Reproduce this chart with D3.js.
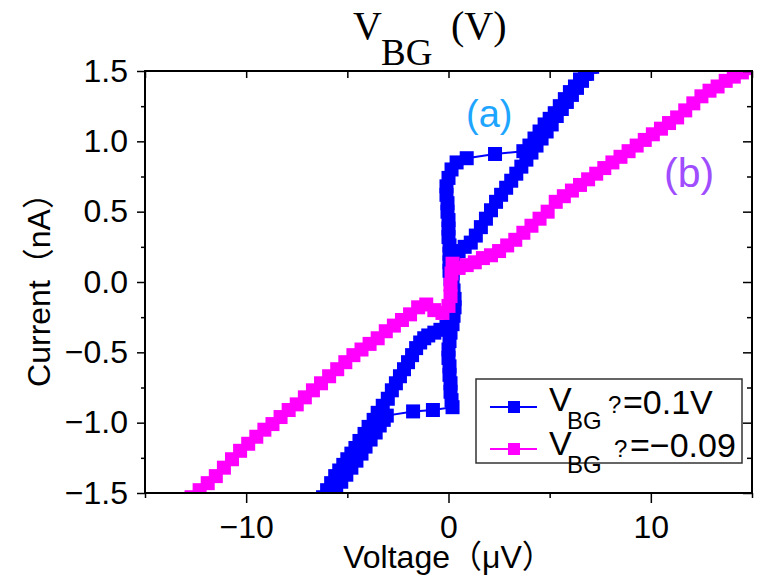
<!DOCTYPE html>
<html>
<head>
<meta charset="utf-8">
<script src="https://cdn.jsdelivr.net/npm/d3@7"></script>
<style>
body { margin: 0; background: #fff; }
text { font-family: "Liberation Sans", Arial, "Noto Sans CJK JP", sans-serif; }
</style>
</head>
<body>
<div id="chart"></div>
<script>
// (a) V_BG = 0.1 V  -- [voltage uV, current nA], forward sweep then return sweep
var curveA = [
  [-6.2,-1.53],[-6.0,-1.48],[-5.8,-1.43],[-5.6,-1.38],[-5.4,-1.34],[-5.2,-1.30],[-5.0,-1.26],[-4.8,-1.22],
  [-4.6,-1.18],[-4.4,-1.13],[-4.15,-1.08],[-3.95,-1.03],[-3.7,-0.98],[-3.5,-0.93],[-3.25,-0.88],[-3.0,-0.83],
  [-2.8,-0.77],[-2.6,-0.72],[-2.4,-0.67],[-2.2,-0.62],[-2.0,-0.57],[-1.8,-0.52],[-1.6,-0.47],[-1.4,-0.43],
  [-1.2,-0.40],[-1.0,-0.38],[-0.7,-0.36],[-0.4,-0.34],[-0.1,-0.32],[0.1,-0.28],[0.15,-0.22],[0.2,-0.16],
  [0.2,-0.10],[0.15,-0.04],[0.1,0.02],[0.05,0.08],[0.05,0.14],[0.05,0.20],[0.05,0.26],[0.0,0.32],
  [0.0,0.38],[0.0,0.44],[-0.05,0.50],[-0.05,0.56],[-0.1,0.62],[-0.1,0.68],[0.0,0.74],[0.15,0.80],
  [0.4,0.85],[0.9,0.88],[2.3,0.91],[3.7,0.93],
  [4.0,0.97],[4.25,1.02],[4.5,1.07],[4.75,1.12],[5.0,1.16],[5.25,1.20],[5.5,1.25],[5.75,1.30],
  [6.0,1.35],[6.25,1.39],[6.5,1.44],[6.75,1.48],[7.0,1.53],
  [7.1,1.53],[6.85,1.48],[6.6,1.43],[6.35,1.38],[6.1,1.33],[5.85,1.28],[5.6,1.23],[5.35,1.18],
  [5.1,1.12],[4.85,1.07],[4.6,1.02],[4.35,0.97],[4.1,0.92],[3.85,0.87],[3.6,0.82],[3.35,0.77],
  [3.1,0.72],[2.85,0.67],[2.6,0.62],[2.35,0.57],[2.1,0.51],[1.85,0.45],[1.6,0.39],[1.35,0.33],
  [1.1,0.28],[0.8,0.25],[0.5,0.22],[0.3,0.18],[0.25,0.12],[0.2,0.06],[0.2,0.0],[0.25,-0.06],
  [0.3,-0.12],[0.3,-0.18],[0.25,-0.24],[0.2,-0.30],[0.1,-0.36],[0.05,-0.42],[0.0,-0.48],[0.0,-0.54],
  [0.05,-0.60],[0.05,-0.66],[0.1,-0.72],[0.1,-0.78],[0.15,-0.84],[0.2,-0.89],
  [-0.77,-0.91],[-1.75,-0.92],[-3.05,-0.95],
  [-3.2,-0.98],[-3.4,-1.02],[-3.6,-1.07],[-3.85,-1.12],[-4.1,-1.17],[-4.3,-1.22],[-4.55,-1.27],
  [-4.8,-1.32],[-5.05,-1.37],[-5.3,-1.42],[-5.55,-1.47],[-5.8,-1.52]
];

// (b) V_BG = -0.09 V
var curveB = [
  [-12.7,-1.53],[-12.3,-1.48],[-11.9,-1.43],[-11.5,-1.38],[-11.1,-1.32],[-10.7,-1.26],[-10.3,-1.20],
  [-9.9,-1.15],[-9.5,-1.10],[-9.1,-1.05],[-8.7,-1.01],[-8.3,-0.96],[-7.9,-0.91],[-7.5,-0.87],
  [-7.1,-0.82],[-6.7,-0.77],[-6.3,-0.72],[-5.9,-0.67],[-5.5,-0.62],[-5.1,-0.57],[-4.7,-0.52],
  [-4.3,-0.48],[-3.9,-0.44],[-3.5,-0.40],[-3.1,-0.35],[-2.7,-0.31],[-2.3,-0.27],[-1.9,-0.23],
  [-1.5,-0.18],[-1.1,-0.16],[-0.7,-0.20],[-0.3,-0.22],[0.0,-0.17],[0.1,-0.10],[0.1,-0.02],
  [0.15,0.06],[0.2,0.13],[0.5,0.10],[0.9,0.12],[1.3,0.14],[1.7,0.17],[2.1,0.19],[2.5,0.22],
  [2.9,0.26],[3.3,0.30],[3.7,0.35],[4.1,0.40],[4.5,0.45],[4.9,0.50],[5.3,0.57],[5.7,0.61],
  [6.1,0.65],[6.5,0.69],[6.9,0.73],[7.3,0.77],[7.7,0.81],[8.1,0.85],[8.5,0.89],[8.9,0.93],
  [9.3,0.97],[9.7,1.01],[10.1,1.05],[10.5,1.09],[10.9,1.13],[11.3,1.17],[11.7,1.22],[12.1,1.27],
  [12.5,1.32],[12.9,1.36],[13.3,1.39],[13.7,1.43],[14.1,1.46],[14.5,1.49],[14.9,1.52]
];

var xMajor = [-10, 0, 10];
var xMinor = [-15, -5, 5, 15];
var xTop = [-15, -10, -5, 0, 5, 10, 15];
var yMajor = [-1.5, -1.0, -0.5, 0.0, 0.5, 1.0, 1.5];
var yMinor = [-1.25, -0.75, -0.25, 0.25, 0.75, 1.25];
var seriesColors = ["#0000ff", "#ff00ff"];
var legendValues = ["=0.1V", "=\u22120.09"];

var width = 757, height = 576;
// plot box (window.top is read-only, so no bare "top")
var pLeft = 145, pRight = 752, pTop = 71, pBottom = 493;

var svg = d3.select("#chart").append("svg")
    .attr("width", width)
    .attr("height", height);

var x = d3.scaleLinear().domain([-15, 15]).range([pLeft, pRight]);
var y = d3.scaleLinear().domain([-1.5, 1.5]).range([pBottom, pTop]);

svg.append("clipPath").attr("id", "plot-clip")
  .append("rect")
    .attr("x", pLeft).attr("y", pTop)
    .attr("width", pRight - pLeft).attr("height", pBottom - pTop);

// curves, blue first so magenta sits on top
var line = d3.line().x(function(d) { return x(d[0]); }).y(function(d) { return y(d[1]); });
var plot = svg.append("g").attr("clip-path", "url(#plot-clip)");
[curveA, curveB].forEach(function(data, k) {
    var g = plot.append("g");
    g.append("path")
        .datum(data)
        .attr("d", line)
        .attr("fill", "none")
        .attr("stroke", seriesColors[k])
        .attr("stroke-width", 2);
    g.selectAll("rect")
        .data(data)
        .enter().append("rect")
        .attr("x", function(d) { return x(d[0]) - 7; })
        .attr("y", function(d) { return y(d[1]) - 7; })
        .attr("width", 14)
        .attr("height", 14)
        .attr("fill", seriesColors[k]);
});

// axes
function styleAxis(g) {
    g.select(".domain").remove();
    g.selectAll("line").attr("stroke", "#000").attr("stroke-width", 1.5);
    g.selectAll("text").attr("fill", "#000").style("font-size", "32px");
}

svg.append("g")
    .attr("transform", "translate(0," + pBottom + ")")
    .call(d3.axisBottom(x).tickValues(xMajor).tickSize(10).tickFormat(d3.format("d")))
    .call(styleAxis)
    .selectAll("text").attr("y", 45).attr("dy", null);
svg.append("g")
    .attr("transform", "translate(0," + pBottom + ")")
    .call(d3.axisBottom(x).tickValues(xMinor).tickSize(5).tickFormat(""))
    .call(styleAxis);
svg.append("g")
    .attr("transform", "translate(0," + pTop + ")")
    .call(d3.axisTop(x).tickValues(xTop).tickSize(-7).tickFormat(""))
    .call(styleAxis);

svg.append("g")
    .attr("transform", "translate(" + pLeft + ",0)")
    .call(d3.axisLeft(y).tickValues(yMajor).tickSize(8).tickPadding(9).tickFormat(d3.format(".1f")))
    .call(styleAxis);
svg.append("g")
    .attr("transform", "translate(" + pLeft + ",0)")
    .call(d3.axisLeft(y).tickValues(yMinor).tickSize(4).tickFormat(""))
    .call(styleAxis);
svg.append("g")
    .attr("transform", "translate(" + pRight + ",0)")
    .call(d3.axisRight(y).tickValues(yMajor).tickSize(-9).tickFormat(""))
    .call(styleAxis);
svg.append("g")
    .attr("transform", "translate(" + pRight + ",0)")
    .call(d3.axisRight(y).tickValues(yMinor).tickSize(-5).tickFormat(""))
    .call(styleAxis);

svg.append("rect")
    .attr("x", pLeft).attr("y", pTop)
    .attr("width", pRight - pLeft).attr("height", pBottom - pTop)
    .attr("fill", "none")
    .attr("stroke", "#000")
    .attr("stroke-width", 2);

// axis titles
svg.append("text")
    .attr("x", (pLeft + pRight) / 2).attr("y", 568)
    .attr("text-anchor", "middle")
    .style("font-size", "32px")
    .text("Voltage\uff08\u03bcV\uff09");
svg.append("text")
    .attr("transform", "translate(50," + ((pTop + pBottom) / 2) + ") rotate(-90)")
    .attr("text-anchor", "middle")
    .style("font-size", "32px")
    .text("Current\uff08nA\uff09");

// top title in serif
var serif = "'Liberation Serif','Times New Roman',serif";
svg.append("text").attr("x", 353).attr("y", 39).style("font-family", serif).style("font-size", "40px").text("V");
svg.append("text").attr("x", 381).attr("y", 65).style("font-family", serif).style("font-size", "37px").text("BG");
svg.append("text").attr("x", 451).attr("y", 39).style("font-family", serif).style("font-size", "40px").text("(V)");

// curve tags
svg.append("text").attr("x", 466).attr("y", 127).attr("fill", "#1ea5ff").style("font-size", "38px").text("(a)");
svg.append("text").attr("x", 664).attr("y", 187).attr("fill", "#a04cff").style("font-size", "41px").text("(b)");

// legend
var legend = svg.append("g");
legend.append("rect")
    .attr("x", 476).attr("y", 379)
    .attr("width", 266).attr("height", 84)
    .attr("fill", "#fff")
    .attr("stroke", "#333")
    .attr("stroke-width", 1.5);

var rowY = [407, 449];
legendValues.forEach(function(label, k) {
    var ly = rowY[k];
    legend.append("line")
        .attr("x1", 490).attr("x2", 537)
        .attr("y1", ly).attr("y2", ly)
        .attr("stroke", seriesColors[k]).attr("stroke-width", 2);
    legend.append("rect")
        .attr("x", 508).attr("y", ly - 6)
        .attr("width", 12).attr("height", 12)
        .attr("fill", seriesColors[k]);
    legend.append("text").attr("x", 549).attr("y", ly + 4 + k * 2).style("font-size", "34px").text("V");
    legend.append("text").attr("x", 567).attr("y", ly + 22 + k * 2).style("font-size", "24px").text("BG");
    legend.append("text").attr("x", 608 + k * 6).attr("y", ly + 6 + k * 2).style("font-size", "24px").text("?");
    legend.append("text").attr("x", 623 + k * 7).attr("y", ly + 7 + k * 1).style("font-size", "34px").text(label);
});
</script>
</body>
</html>
